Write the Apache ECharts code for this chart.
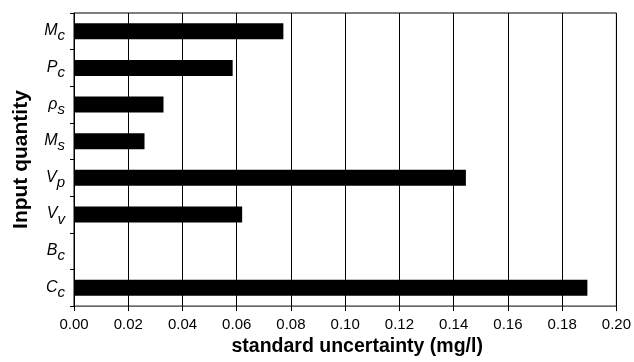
<!DOCTYPE html>
<html>
<head>
<meta charset="utf-8">
<script src="https://cdn.jsdelivr.net/npm/echarts@6/dist/echarts.min.js"></script>
<style>
  html, body { margin: 0; padding: 0; background: #fff; }
  #chart { width: 634px; height: 362px; }
</style>
</head>
<body>
<div id="chart"></div>
<script>
// categories, top to bottom: [main symbol, subscript]
const categories = [
  ['M', 'c'], ['P', 'c'], ['ρ', 's'], ['M', 's'],
  ['V', 'p'], ['V', 'v'], ['B', 'c'], ['C', 'c']
];
const values = [0.0772, 0.0585, 0.033, 0.026, 0.1445, 0.062, 0, 0.1893];
const xTicks = [0, 0.02, 0.04, 0.06, 0.08, 0.1, 0.12, 0.14, 0.16, 0.18, 0.2];

const font = '"Liberation Sans", Arial, sans-serif';
const chart = echarts.init(document.getElementById('chart'));

chart.setOption({
  animation: false,
  grid: { left: 74, right: 16, top: 13, bottom: 54, show: true, borderColor: '#000', borderWidth: 1 },
  xAxis: {
    type: 'value',
    min: 0,
    max: 0.2,
    interval: 0.02,
    name: 'standard uncertainty (mg/l)',
    nameLocation: 'middle',
    nameGap: 30,
    nameTextStyle: { fontFamily: font, fontWeight: 'bold', fontSize: 19.5, color: '#000', padding: [0, 0, 0, 24] },
    axisLine: { lineStyle: { color: '#000', width: 1 } },
    axisTick: { show: true, length: 5, lineStyle: { color: '#000' } },
    axisLabel: {
      fontFamily: font, fontSize: 15, color: '#000', margin: 11,
      formatter: v => {
        const t = xTicks.find(x => Math.abs(x - v) < 1e-9);
        return (t !== undefined ? t : v).toFixed(2);
      }
    },
    splitLine: { show: true, lineStyle: { color: '#000', width: 1 } }
  },
  yAxis: {
    type: 'category',
    inverse: true,
    data: categories.map(c => c[0] + '|' + c[1]),
    name: 'Input quantity',
    nameLocation: 'middle',
    nameGap: 42,
    nameRotate: 90,
    nameTextStyle: { fontFamily: font, fontWeight: 'bold', fontSize: 21, color: '#000' },
    axisLine: { lineStyle: { color: '#000', width: 1 } },
    axisTick: { show: true, length: 4, lineStyle: { color: '#000' } },
    axisLabel: {
      margin: 9,
      padding: [9, 0, 0, 0],
      formatter: v => {
        const p = v.split('|');
        return '{m|' + p[0] + '}{s|' + p[1] + '}';
      },
      rich: {
        m: { fontFamily: font, fontStyle: 'italic', fontSize: 16, lineHeight: 16, color: '#000', verticalAlign: 'bottom', padding: [0, 0, 5, 0] },
        s: { fontFamily: font, fontStyle: 'italic', fontSize: 15, lineHeight: 15, color: '#000', verticalAlign: 'bottom' }
      }
    },
    splitLine: { show: false }
  },
  series: [{
    type: 'bar',
    data: values,
    barWidth: 16,
    itemStyle: { color: '#000' }
  }]
});
</script>
</body>
</html>
